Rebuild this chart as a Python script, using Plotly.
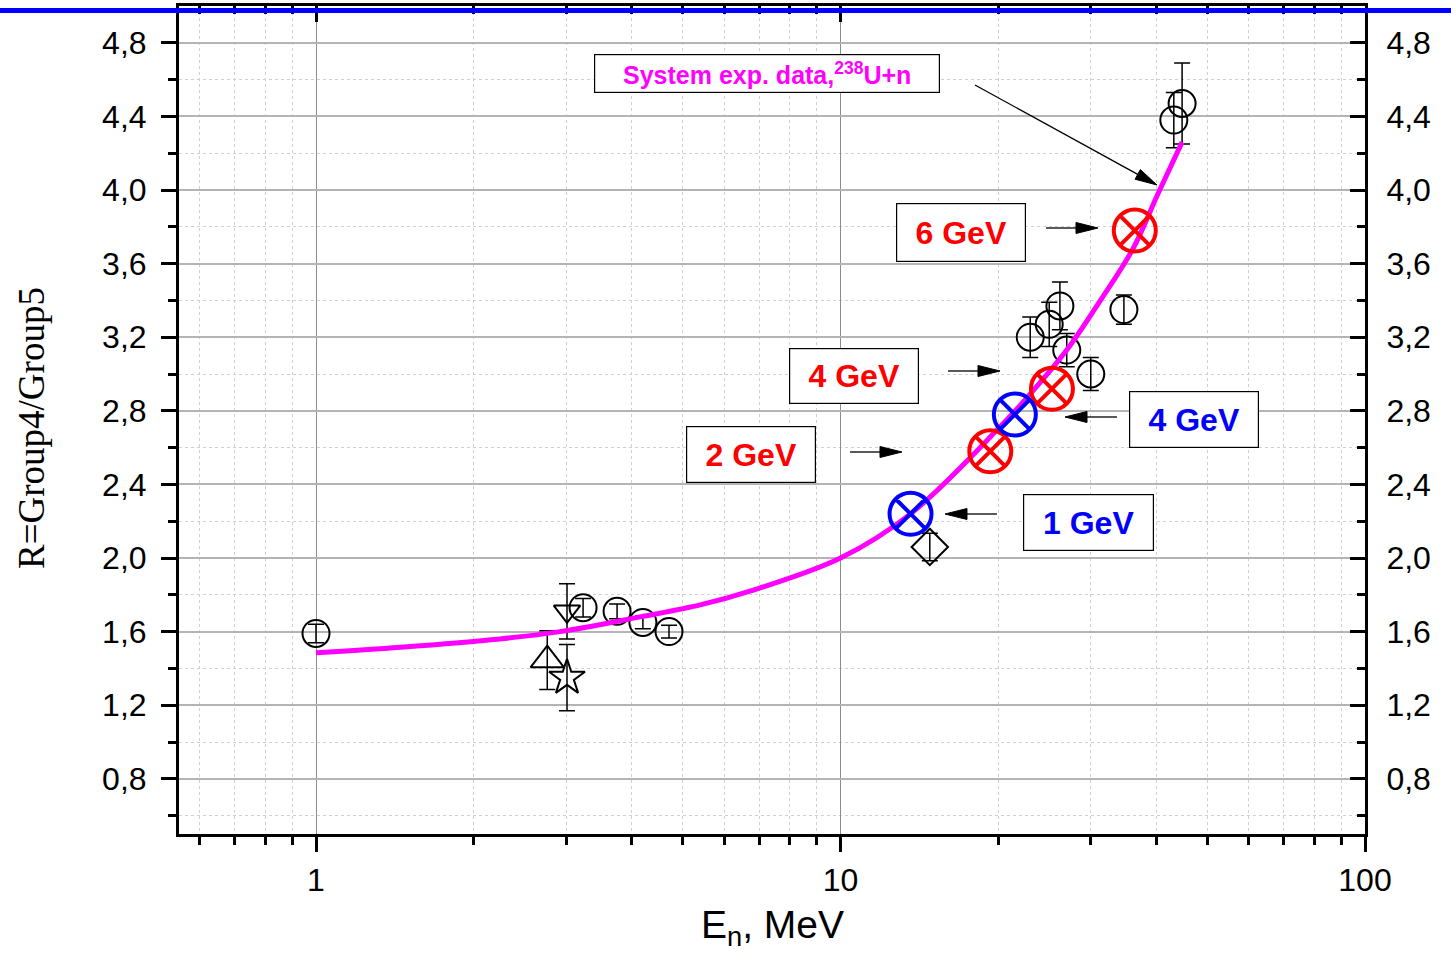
import plotly.graph_objects as go

# ---- measured ratios R = Group4/Group5 versus neutron energy ----
circ_E = [1.0, 3.23, 3.75, 4.2, 4.71, 23.0, 25.0, 26.2, 27.0, 30.0, 34.7, 43.2, 44.8]
circ_R = [1.59, 1.73, 1.71, 1.65, 1.60, 3.20, 3.27, 3.37, 3.13, 3.00, 3.35, 4.38, 4.47]
circ_err = [0.05, 0.05, 0.04, 0.035, 0.035, 0.11, 0.12, 0.13, 0.09, 0.09, 0.08, 0.15, 0.22]

tri_up_E = [2.76]
tri_up_R = [1.445]
tri_up_err = [0.16]

tri_down_E = [3.01]
tri_down_R = [1.71]
tri_down_err = [0.15]

star_E = [3.01]
star_R = [1.35]
star_err = [0.18]

diam_E = [14.8]
diam_R = [2.06]
diam_err = [0.075]

# ---- systematics curve for 238U+n ----
fit_E = [1.0, 1.45, 2.24, 2.92, 4.15, 5.4, 6.72, 10.0, 13.6, 20.1, 23.3, 27.0, 31.3, 36.1, 40.3, 44.8]
fit_R = [1.485, 1.515, 1.56, 1.60, 1.68, 1.745, 1.82, 2.00, 2.24, 2.71, 2.91, 3.13, 3.40, 3.68, 3.98, 4.26]

# ---- equivalent points for proton beam energies ----
red_E = [19.3, 25.3, 36.4]
red_R = [2.58, 2.92, 3.78]
red_labels = ["2 GeV", "4 GeV", "6 GeV"]

blue_E = [13.6, 21.5]
blue_R = [2.24, 2.78]
blue_labels = ["1 GeV", "4 GeV"]

# axis ticks
y_major = [0.8, 1.2, 1.6, 2.0, 2.4, 2.8, 3.2, 3.6, 4.0, 4.4, 4.8]
y_minor = [0.6, 1.0, 1.4, 1.8, 2.2, 2.6, 3.0, 3.4, 3.8, 4.2, 4.6]
x_major = [1, 10, 100]
x_minor = [0.6, 0.7, 0.8, 0.9, 2, 3, 4, 5, 6, 7, 8, 9, 20, 30, 40, 50, 60, 70, 80, 90]

# ---- page geometry (pixels) ----
W, H = 1451, 958
PL, PR, PT, PB = 179, 1365, 6, 834
PW, PH = PR - PL, PB - PT


def paper(px, py):
    return (px - PL) / PW, (PB - py) / PH


FONT = "Liberation Sans, Arial, sans-serif"

fig = go.Figure()


def err_trace(x, y, e, symbol, size):
    return go.Scatter(
        x=x, y=y, mode="markers",
        marker=dict(symbol=symbol, size=size, color="black",
                    line=dict(color="black", width=2)),
        error_y=dict(type="data", array=e, visible=True, color="black",
                     thickness=1.5, width=8),
        showlegend=False, hoverinfo="x+y",
    )


fig.add_trace(err_trace(circ_E, circ_R, circ_err, "circle-open", 27))
fig.add_trace(err_trace(tri_up_E, tri_up_R, tri_up_err, "triangle-up-open", 29))
fig.add_trace(err_trace(tri_down_E, tri_down_R, tri_down_err, "triangle-down-open", 23))
fig.add_trace(err_trace(star_E, star_R, star_err, "star-open", 27))
fig.add_trace(err_trace(diam_E, diam_R, diam_err, "diamond-open", 28))

fig.add_trace(go.Scatter(
    x=fit_E, y=fit_R, mode="lines",
    line=dict(color="#ff00ff", width=5, shape="spline", smoothing=1.0),
    showlegend=False, hoverinfo="skip",
))

fig.add_trace(go.Scatter(
    x=red_E, y=red_R, mode="markers", text=red_labels,
    marker=dict(symbol="circle-x-open", size=42, color="#ff0000",
                line=dict(color="#ff0000", width=4)),
    showlegend=False,
))
fig.add_trace(go.Scatter(
    x=blue_E, y=blue_R, mode="markers", text=blue_labels,
    marker=dict(symbol="circle-x-open", size=42, color="#0000ff",
                line=dict(color="#0000ff", width=4)),
    showlegend=False,
))

# anchor trace so the top and right frame axes are drawn
fig.add_trace(go.Scatter(x=[1], y=[1], xaxis="x2", yaxis="y2", mode="markers",
                         marker=dict(opacity=0), showlegend=False, hoverinfo="skip"))

XR = [-0.2612, 2.0]
YR = [0.5, 5.0]

common_x = dict(type="log", range=XR, showline=True, linecolor="black", linewidth=3,
                tickvals=x_major, ticktext=["1", "10", "100"], zeroline=False)
common_y = dict(range=YR, showline=True, linecolor="black", linewidth=3,
                tickvals=y_major, tickformat=".1f", zeroline=False)

fig.update_layout(
    width=W, height=H,
    margin=dict(l=PL, r=W - PR, t=PT, b=H - PB),
    paper_bgcolor="white", plot_bgcolor="white",
    separators=",.",
    font=dict(family=FONT, color="black"),
    xaxis=dict(
        **common_x, ticks="outside", ticklen=15, tickwidth=3, tickcolor="black",
        tickfont=dict(size=32), ticklabelstandoff=1,
        showgrid=True, gridcolor="#8c8c8c", gridwidth=1,
        minor=dict(tickvals=x_minor, ticks="outside", ticklen=8, tickwidth=3,
                   tickcolor="black", showgrid=True, gridcolor="#d0d0d0",
                   griddash="dot", gridwidth=1),
    ),
    xaxis2=dict(
        **common_x, overlaying="x", side="top", ticks="inside", ticklen=16,
        tickwidth=3, tickcolor="black", showticklabels=False, showgrid=False,
        minor=dict(tickvals=x_minor, ticks="inside", ticklen=8, tickwidth=3,
                   tickcolor="black", showgrid=False),
    ),
    yaxis=dict(
        **common_y, ticks="outside", ticklen=15, tickwidth=3, tickcolor="black",
        tickfont=dict(size=32), ticklabelstandoff=8,
        showgrid=True, gridcolor="#b4b4b4", gridwidth=1.5,
        minor=dict(tickvals=y_minor, ticks="outside", ticklen=8, tickwidth=3,
                   tickcolor="black", showgrid=True, gridcolor="#d0d0d0",
                   griddash="dot", gridwidth=1),
    ),
    yaxis2=dict(
        **common_y, overlaying="y", side="right", anchor="x", ticks="inside",
        ticklen=15, tickwidth=3, tickcolor="black",
        tickfont=dict(size=32), ticklabelstandoff=12, showgrid=False,
        minor=dict(tickvals=y_minor, ticks="inside", ticklen=8, tickwidth=3,
                   tickcolor="black", showgrid=False),
    ),
)

annotations = []
shapes = []

# axis titles
tx, ty = paper(772, 927)
annotations.append(dict(text="E<sub>n</sub>, MeV", xref="paper", yref="paper",
                        x=tx, y=ty, xanchor="center", yanchor="middle",
                        showarrow=False, font=dict(size=39, family=FONT)))
tx, ty = paper(31, 428)
annotations.append(dict(text="R=Group4/Group5", xref="paper", yref="paper",
                        x=tx, y=ty, xanchor="center", yanchor="middle", textangle=-90,
                        showarrow=False,
                        font=dict(size=37, family="Liberation Serif, Times New Roman, serif")))


def box(text, cx, cy, w, h, color, size):
    x, y = paper(cx, cy)
    annotations.append(dict(
        text="<b>%s</b>" % text, xref="paper", yref="paper", x=x, y=y,
        xanchor="center", yanchor="middle", showarrow=False,
        width=w - 2, height=h - 2, borderpad=0, borderwidth=1.2,
        bordercolor="black", bgcolor="white",
        font=dict(size=size, color=color, family=FONT),
    ))


def arrow(x0, y0, x1, y1, head_len=22, head_w=11):
    # straight shaft from (x0,y0) to the tip (x1,y1), filled narrow head
    dx, dy = x1 - x0, y1 - y0
    L = (dx * dx + dy * dy) ** 0.5
    ux, uy = dx / L, dy / L
    bx, by = x1 - ux * head_len, y1 - uy * head_len
    nx, ny = -uy, ux
    a = paper(x0, y0)
    b = paper(bx, by)
    shapes.append(dict(type="line", xref="paper", yref="paper",
                       x0=a[0], y0=a[1], x1=b[0], y1=b[1],
                       line=dict(color="black", width=1.3)))
    p1 = paper(x1, y1)
    p2 = paper(bx + nx * head_w / 2, by + ny * head_w / 2)
    p3 = paper(bx - nx * head_w / 2, by - ny * head_w / 2)
    shapes.append(dict(type="path", xref="paper", yref="paper",
                       path="M %f,%f L %f,%f L %f,%f Z" % (p1 + p2 + p3),
                       fillcolor="black", line=dict(color="black", width=1)))


box("System exp. data,<sup>238</sup>U+n", 767, 73.5, 346, 39, "#ff00ff", 25)
box(red_labels[2], 961, 232.5, 130, 59, "#ff0000", 32)
box(red_labels[1], 854, 376, 130, 56, "#ff0000", 32)
box(red_labels[0], 751, 454.5, 130, 57, "#ff0000", 32)
box(blue_labels[1], 1194, 419.5, 130, 57, "#0000ff", 32)
box(blue_labels[0], 1088.5, 522.5, 131, 57, "#0000ff", 32)

arrow(975, 85, 1157, 185)
arrow(1046, 228, 1098, 228)
arrow(948, 371, 1000, 371)
arrow(850, 452, 902, 452)
arrow(1117, 417, 1065, 417)
arrow(997, 514, 945, 514)

# blue rule across the top of the page
x_left, _ = paper(0, 0)
x_right, _ = paper(W, 0)
_, y_rule = paper(0, 10.5)
shapes.append(dict(type="line", xref="paper", yref="paper", x0=x_left, x1=x_right,
                   y0=y_rule, y1=y_rule, line=dict(color="#0000ff", width=5),
                   layer="above"))

fig.update_layout(annotations=annotations, shapes=shapes)

fig.write_html("out.html")
